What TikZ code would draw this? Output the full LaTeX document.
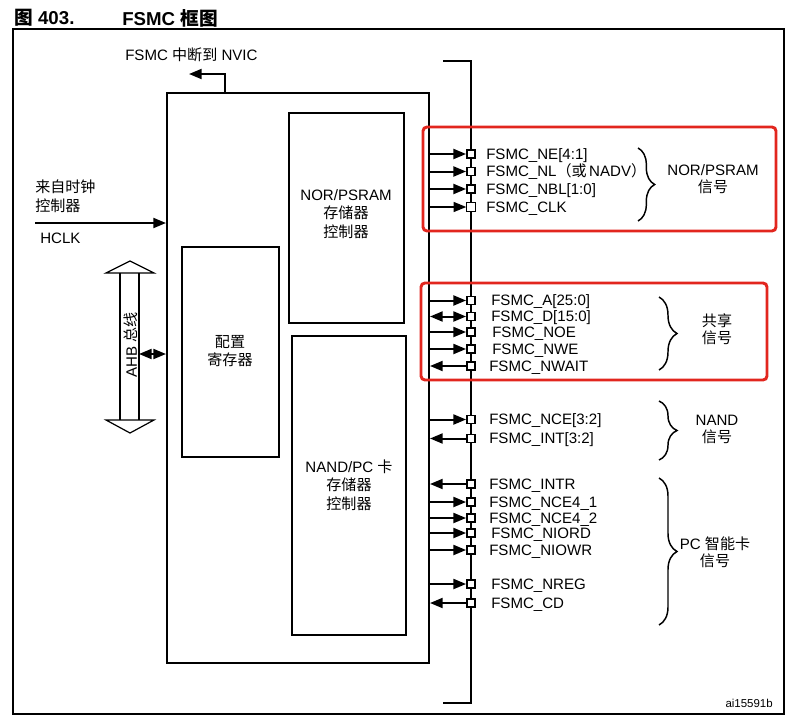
\documentclass[tikz,border=0pt]{standalone}
\usepackage{fontspec}
\setmainfont{Liberation Sans}
\newfontfamily\cjk{Noto Sans CJK SC}
\usetikzlibrary{arrows.meta,decorations.pathreplacing,fit}
\definecolor{redc}{RGB}{226,38,30}
% #1 node name, #2 y, #3 arrow style, #4 label x, #5 text
\newcommand\fsig[5]{%
  \node[sq] (#1) at (471,#2) {};
  \draw[thk,#3] (#1.west -| main.east) -- (#1.west);
  \node[lab] (#1L) at (#4,#2) {#5};
}
\begin{document}
\begin{tikzpicture}[x=0.75pt,y=-0.75pt,
  font=\fontsize{11.3}{13.9}\selectfont,
  thk/.style={line width=1.5pt},
  outA/.style={-{Triangle[length=9.5pt,width=7.5pt]}},
  inA/.style={{Triangle[length=9.5pt,width=7.5pt]}-},
  bothA/.style={{Triangle[length=9.5pt,width=7.5pt]}-{Triangle[length=9.5pt,width=7.5pt]}},
  sq/.style={draw,fill=white,line width=1.1pt,minimum size=6.3pt,inner sep=0pt},
  lab/.style={anchor=west,inner sep=0pt,text height=8.1pt,text depth=0pt},
  blk/.style={draw,thk,inner sep=0pt},
  redbox/.style={draw=redc,line width=2.2pt,rounded corners=3pt,inner sep=0pt},
  brc/.style={decorate,decoration={brace,amplitude=#1},line width=1.1pt},
  txt/.style={align=center,inner sep=0pt},
  btxt/.style={align=center,inner sep=0pt,font=\fontsize{11.3}{12.6}\selectfont}
]
\useasboundingbox (0,0) rectangle (792,721);

% title
\node[anchor=west,inner sep=0pt,font=\fontsize{14}{16}\selectfont\bfseries] (ttl1) at (14,18) {{\cjk 图} 403.};
\node[anchor=west,inner sep=0pt,font=\fontsize{14}{16}\selectfont\bfseries] (ttl2) at (122,18) {FSMC {\cjk 框图}};

% frame
\node[fit={(13,29) (784,714)},draw,line width=1.1pt,inner sep=0pt] (frame) {};

% main blocks
\node[fit={(167,93) (429,663)},blk] (main) {};
\node[fit={(289,113) (404,323)},blk] (nor) {};
\node[fit={(292,336) (406,635)},blk] (nand) {};
\node[fit={(182,247) (279,457)},blk] (cfg) {};
\node[txt] (norT) at (346,214) {NOR/PSRAM\\{\cjk 存储器}\\{\cjk 控制器}};
\node[txt] (nandT) at (349,485) {NAND/PC {\cjk 卡}\\{\cjk 存储器}\\{\cjk 控制器}};
\node[txt] (cfgT) at (230,351) {{\cjk 配置}\\{\cjk 寄存器}};

% interrupt to NVIC
\coordinate (irqbase) at (225,93);
\coordinate (irqtip) at (189,74);
\draw[thk,outA] (irqbase) |- (irqtip);
\node[anchor=west,inner sep=0pt] (irqT) at (125,55) {FSMC {\cjk 中断到} NVIC};

% HCLK
\coordinate (hclk) at (35,223);
\draw[thk,outA] (hclk) -- (hclk -| main.west);
\node[anchor=west,inner sep=0pt,align=left] (clkT) at (35,196) {{\cjk 来自时钟}\\{\cjk 控制器}};
\node[anchor=west,inner sep=0pt] (hclkT) at (40,238) {HCLK};

% AHB bus (hollow double arrow)
\draw[line width=0.9pt] (130,261) -- (154,273) -- (106,273) -- cycle;
\draw[line width=0.9pt] (130,433) -- (154,420) -- (106,420) -- cycle;
\fill[white] (121,274) rectangle (138,419);
\draw[thk] (120,273) -- (120,420) (139,273) -- (139,420);
\node[rotate=90,inner sep=0pt] (ahbT) at (131,345) {AHB {\cjk 总线}};
\coordinate (ahbR) at (139,354);
\draw[thk,bothA] (ahbR) -- (ahbR -| main.west);

% external bus
\coordinate (busTL) at (443,61);
\coordinate (busT) at (471,61);
\coordinate (busB) at (471,703);
\coordinate (busBL) at (443,703);
\draw[thk] (busTL) -- (busT) -- (busB) -- (busBL);

% signals
\fsig{ne}{154}{outA}{486}{FSMC\_NE[4:1]}
\fsig{nl}{171.5}{outA}{486}{FSMC\_NL{\cjk （或}\,NADV{\cjk ）}}
\fsig{nbl}{189}{outA}{486}{FSMC\_NBL[1:0]}
\node[sq,line width=0.8pt] (clk) at (471,207) {};
\draw[line width=1pt,outA] (clk.west -| main.east) -- (clk.west);
\node[lab] (clkL) at (486,207) {FSMC\_CLK};

\fsig{a}{300.5}{outA}{491}{FSMC\_A[25:0]}
\fsig{d}{316.5}{bothA}{491}{FSMC\_D[15:0]}
\fsig{noe}{332}{outA}{492}{FSMC\_NOE}
\fsig{nwe}{349}{outA}{492}{FSMC\_NWE}
\fsig{nwait}{366}{inA}{489}{FSMC\_NWAIT}

\fsig{nce}{419.5}{outA}{489}{FSMC\_NCE[3:2]}
\fsig{int}{438.5}{inA}{489}{FSMC\_INT[3:2]}

\fsig{intr}{484}{inA}{489}{FSMC\_INTR}
\fsig{nceA}{502}{outA}{489}{FSMC\_NCE4\_1}
\fsig{nceB}{518}{outA}{489}{FSMC\_NCE4\_2}
\fsig{niord}{533}{outA}{491}{FSMC\_NIORD}
\fsig{niowr}{550}{outA}{489}{FSMC\_NIOWR}
\fsig{nreg}{584}{outA}{491}{FSMC\_NREG}
\fsig{cd}{603}{inA}{491}{FSMC\_CD}

% braces and group labels
\draw[brc=12.5pt] (638,148) -- (638,221);
\node[btxt] (gNor) at (713,179) {NOR/PSRAM\\{\cjk 信号}};
\draw[brc=13.5pt] (659,297) -- (659,370);
\node[btxt] (gSh) at (717,329) {{\cjk 共享}\\{\cjk 信号}};
\draw[brc=13.5pt] (659,401) -- (659,460);
\node[btxt] (gNand) at (717,429.5) {NAND\\{\cjk 信号}};
\draw[brc=13.5pt] (659,478) -- (659,625);
\node[btxt] (gPc) at (715,552.5) {PC {\cjk 智能卡}\\{\cjk 信号}};

% red highlight boxes
\node[fit={(423,127) (776,231)},redbox] (hiNor) {};
\node[fit={(421,283) (767,380)},redbox] (hiSh) {};

% figure id
\node[anchor=east,inner sep=0pt,font=\fontsize{8.6}{10}\selectfont] (fid) at (773,703) {ai15591b};
\end{tikzpicture}
\end{document}
